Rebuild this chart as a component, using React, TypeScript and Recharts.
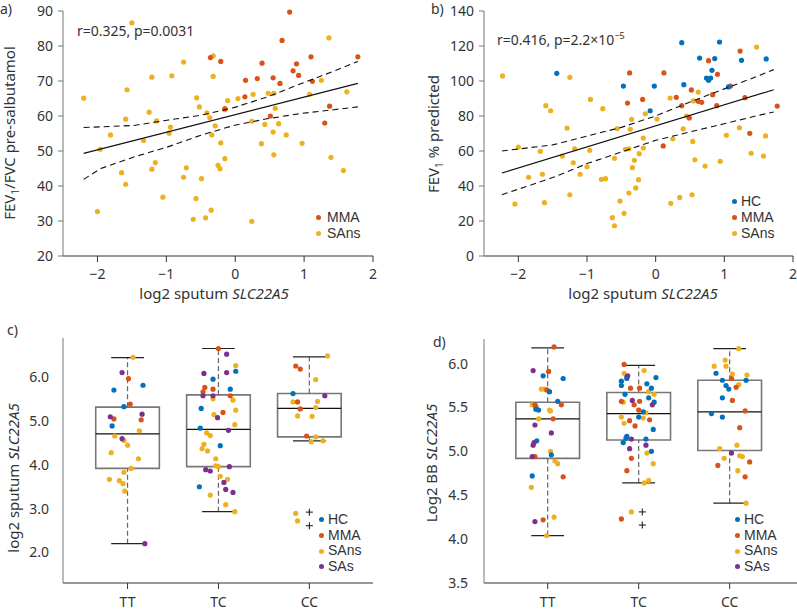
import {
  ComposedChart,
  Scatter,
  XAxis,
  YAxis,
  ReferenceArea,
  ReferenceLine,
  Legend,
} from 'recharts';

type Pt = [number, number];

const COLORS: Record<string, string> = {
  HC: '#0072BD',
  MMA: '#D95319',
  SAns: '#EDB120',
  SAs: '#7E2F8E',
};

// ---- panel a: FEV1/FVC vs sputum SLC22A5
const A_MMA: Pt[] = [
  [0.79, 89.7], [0.68, 81.6], [-0.36, 76.7], [-0.21, 75.6], [0.39, 75.1], [0.89, 74.9],
  [1.1, 76.9], [1.78, 76.9], [0.84, 72.9], [0.92, 71.6], [0.15, 70.2], [0.32, 70.7],
  [0.55, 70.9], [0.65, 69.3], [1.12, 69.9], [0.14, 65.5], [-0.15, 62.1], [0.51, 60.0],
  [1.37, 62.8], [1.3, 58.0],
];
const A_SANS: Pt[] = [
  [-1.5, 86.6], [1.36, 82.3], [-0.75, 75.4], [-0.32, 77.2], [-0.32, 71.3], [-0.92, 71.5],
  [-1.21, 71.1], [-2.2, 65.1], [-1.57, 67.5], [-0.56, 65.2], [-0.52, 62.6], [-0.11, 64.4],
  [0.04, 65.0], [0.26, 66.2], [0.48, 66.5], [0.56, 66.5], [1.08, 66.2], [1.25, 70.2],
  [1.62, 66.9], [-1.25, 61.1], [-1.59, 59.1], [-1.14, 58.6], [-0.41, 60.9], [-0.37, 59.5],
  [-0.15, 61.8], [0.58, 62.2], [0.24, 58.5], [0.63, 57.8], [0.43, 57.6], [-0.29, 57.2],
  [-1.81, 54.6], [-0.94, 56.8], [-0.96, 55.1], [-0.34, 54.6], [-1.33, 53.0], [-1.96, 50.5],
  [0.38, 52.1], [-0.21, 52.3], [0.55, 55.4], [0.74, 54.6], [0.97, 52.2], [0.56, 48.9],
  [-0.15, 47.8], [-1.16, 46.7], [1.39, 48.2], [-1.21, 44.8], [-1.65, 43.8], [-0.71, 45.2],
  [-0.25, 45.9], [-0.22, 44.9], [-0.75, 42.5], [-0.49, 42.1], [-1.59, 40.5], [1.57, 44.4],
  [-1.05, 36.8], [-0.57, 36.4], [-0.35, 33.1], [-2.0, 32.7], [-0.61, 30.5], [-0.43, 30.9],
  [0.24, 29.9],
];
const A_FIT: Pt[] = [[-2.2, 49.3], [1.78, 69.3]];
const A_CI_UP: Pt[] = [
  [-2.2, 56.7], [-1.47, 57.3], [-0.99, 58.8], [-0.5, 60.2], [-0.02, 62.4], [0.46, 65.4],
  [0.95, 69.2], [1.43, 72.8], [1.78, 75.6],
];
const A_CI_LO: Pt[] = [
  [-2.2, 41.9], [-1.95, 45.0], [-1.47, 48.3], [-0.99, 51.1], [-0.5, 54.5], [-0.02, 57.3],
  [0.46, 59.2], [0.95, 60.7], [1.43, 61.8], [1.78, 62.6],
];

// ---- panel b: FEV1 % predicted vs sputum SLC22A5
const B_HC: Pt[] = [
  [-1.44, 104.4], [-0.47, 97.1], [-0.02, 97.1], [-0.08, 83.0], [0.38, 121.9], [0.64, 113.1],
  [0.41, 97.9], [0.86, 112.8], [0.93, 122.3], [0.82, 106.1], [0.74, 101.7], [0.77, 100.4],
  [0.8, 101.7], [1.06, 96.6], [1.25, 111.8], [1.61, 112.6],
];
const B_MMA: Pt[] = [
  [-0.38, 104.6], [0.12, 104.6], [0.77, 111.6], [1.23, 117.1], [0.9, 103.8], [0.52, 94.9],
  [0.3, 90.7], [-0.19, 89.5], [-0.41, 87.4], [0.38, 85.9], [0.62, 88.4], [0.67, 87.8],
  [0.83, 92.2], [0.89, 85.9], [1.09, 97.1], [1.3, 90.5], [1.77, 85.7], [0.49, 78.9],
  [0.11, 62.9], [1.37, 70.1],
];
const B_SANS: Pt[] = [
  [-2.23, 102.9], [-1.25, 102.1], [1.47, 119.4], [0.62, 93.7], [0.21, 90.3], [0.55, 88.6],
  [-0.95, 89.5], [-0.77, 84.2], [-1.6, 85.9], [-1.53, 83.0], [-0.15, 81.3], [0.02, 78.3],
  [0.45, 80.0], [-0.35, 78.1], [-0.56, 72.8], [-0.37, 72.4], [-1.29, 73.1], [0.4, 72.6],
  [1.22, 73.3], [-0.18, 67.4], [0.25, 67.0], [1.03, 69.0], [1.6, 68.6], [0.54, 65.5],
  [-2.0, 62.3], [-1.18, 61.3], [-0.96, 60.4], [-0.39, 61.3], [-0.44, 61.0], [-0.18, 61.7],
  [-1.68, 59.8], [-1.36, 57.1], [-0.24, 58.5], [1.39, 58.7], [1.57, 57.1], [-0.6, 55.8],
  [-0.31, 54.7], [0.57, 55.0], [0.94, 54.1], [-1.2, 53.3], [-1.0, 51.0], [0.72, 51.4],
  [-0.34, 50.5], [-1.1, 46.7], [-1.65, 46.7], [-1.85, 45.0], [-0.79, 43.8], [-0.73, 44.2],
  [-0.25, 43.6], [-0.29, 38.9], [-0.39, 36.0], [-1.25, 35.0], [0.53, 35.0], [0.35, 33.5],
  [-0.52, 31.4], [-2.05, 29.7], [-1.62, 30.5], [0.22, 30.1], [-0.46, 24.4], [-0.63, 21.9],
  [-0.6, 17.3],
];
const B_FIT: Pt[] = [[-2.24, 47.4], [1.72, 95.0]];
const B_CI_UP: Pt[] = [
  [-2.24, 60.0], [-1.5, 63.5], [-1.0, 68.5], [-0.5, 73.5], [0.0, 80.0], [0.5, 88.0],
  [1.0, 95.5], [1.5, 103.0], [1.72, 106.5],
];
const B_CI_LO: Pt[] = [
  [-2.24, 35.0], [-1.5, 44.8], [-1.0, 52.8], [-0.5, 59.4], [0.0, 66.1], [0.5, 70.9],
  [1.0, 75.6], [1.5, 80.4], [1.72, 82.3],
];

// ---- panel c: sputum SLC22A5 by genotype (x = genotype position + jitter)
const GENOTYPES = ['TT', 'TC', 'CC'];
const C_HC: Pt[] = [
  [0.85, 5.71], [1.17, 5.82], [0.96, 5.33], [0.83, 4.89],
  [2.19, 6.14], [1.94, 5.96], [2.13, 5.73], [1.81, 5.29], [1.8, 4.84], [2.02, 4.44], [1.79, 3.5],
  [2.82, 5.63],
];
const C_MMA: Pt[] = [
  [1.01, 5.97], [1.03, 5.39], [0.85, 5.05], [1.15, 5.03],
  [2.0, 6.66], [1.83, 5.67], [1.85, 5.77], [1.94, 5.73], [2.13, 5.58], [2.05, 5.2],
  [2.85, 6.26], [2.9, 6.19], [2.87, 5.44], [2.9, 5.28], [2.97, 4.66],
];
const C_SANS: Pt[] = [
  [1.06, 6.46], [0.86, 4.66], [0.96, 4.56], [1.0, 4.45], [0.82, 4.28], [1.13, 4.78],
  [1.12, 4.14], [1.04, 3.92], [0.96, 3.83], [0.8, 3.67], [0.91, 3.64], [0.95, 3.57], [0.97, 3.4],
  [2.19, 6.27], [1.94, 5.51], [2.16, 5.48], [2.19, 5.25], [1.95, 5.15], [2.18, 4.92],
  [1.87, 4.73], [1.91, 4.67], [1.84, 4.47], [1.82, 4.37], [1.88, 4.32], [1.97, 4.14],
  [1.97, 3.98], [2.0, 3.96], [2.02, 3.74], [2.1, 3.67], [1.91, 3.31], [2.08, 3.09], [2.18, 2.93],
  [3.2, 6.49], [3.07, 5.95], [2.82, 5.44], [3.09, 5.45], [3.07, 5.31], [2.87, 5.12],
  [3.03, 5.11], [3.07, 4.64], [3.02, 4.53], [3.15, 4.55], [2.85, 2.89], [2.87, 2.72],
];
const C_SAS: Pt[] = [
  [0.94, 6.11], [0.81, 5.1], [1.16, 5.16], [0.94, 4.6], [1.19, 2.2],
  [2.09, 6.53], [1.84, 6.09], [2.09, 6.11], [1.83, 5.58], [1.94, 5.58], [1.99, 5.08],
  [2.11, 4.79], [1.86, 3.89], [1.91, 3.86], [2.12, 3.96], [2.06, 3.6], [2.08, 3.44], [2.16, 3.37],
  [3.17, 5.58],
];
// [position, lower whisker, q1, median, q3, upper whisker]
const C_BOXES: number[][] = [
  [1, 2.2, 3.92, 4.71, 5.32, 6.45],
  [2, 2.93, 3.96, 4.81, 5.6, 6.66],
  [3, 4.55, 4.64, 5.29, 5.63, 6.47],
];
const C_OUTLIERS: Pt[] = [[3, 2.92], [3, 2.61]];

// ---- panel d: BB SLC22A5 by genotype
const D_HC: Pt[] = [
  [0.95, 5.86], [1.17, 5.83], [1.02, 5.68], [1.11, 5.57], [0.87, 5.48], [0.9, 5.47],
  [0.88, 5.12], [1.04, 4.96], [0.83, 4.72],
  [1.81, 5.8], [1.87, 5.83], [1.87, 5.85], [1.81, 5.75], [1.85, 5.65], [2.09, 5.77],
  [2.14, 5.72], [2.19, 5.84], [2.11, 5.61], [2.17, 5.56], [2.05, 5.45], [2.0, 5.39],
  [2.16, 5.25], [1.87, 5.17], [1.86, 5.15], [1.83, 5.1], [2.08, 5.14], [2.14, 5.0],
  [2.85, 5.89], [2.92, 5.81], [2.96, 5.75], [2.99, 5.71], [3.18, 5.81], [2.92, 5.61],
  [2.8, 5.43], [2.92, 5.39],
];
const D_MMA: Pt[] = [
  [1.07, 6.19], [1.01, 5.91], [0.86, 5.53], [0.87, 5.51], [1.15, 5.53], [0.99, 5.7],
  [1.06, 5.37], [1.17, 4.71], [0.95, 4.22], [0.86, 4.94],
  [1.84, 5.99], [1.91, 5.72], [2.01, 5.72], [1.81, 5.57], [2.01, 5.57], [1.95, 5.53],
  [2.0, 5.47], [1.96, 5.29], [2.12, 5.36], [1.9, 5.35], [1.92, 4.92], [1.87, 4.78], [1.81, 4.23],
  [3.02, 5.83], [3.07, 5.73], [3.03, 5.58], [3.17, 5.46], [3.11, 5.27], [2.87, 4.84],
  [3.22, 4.88], [3.17, 4.71],
];
const D_SANS: Pt[] = [
  [0.93, 5.71], [0.96, 5.71], [0.83, 5.53], [1.02, 5.47], [1.03, 5.46], [0.9, 5.37],
  [1.03, 5.0], [1.08, 4.89], [1.11, 4.86], [0.82, 4.59], [1.07, 4.25], [0.99, 4.04],
  [2.06, 5.92], [1.84, 5.89], [2.11, 5.68], [2.17, 5.65], [1.83, 5.56], [1.81, 5.39],
  [1.84, 5.32], [2.08, 5.44], [2.05, 5.38], [2.09, 4.98], [2.16, 4.86], [2.11, 4.67],
  [2.06, 4.64], [1.92, 4.31],
  [3.1, 6.17], [2.83, 5.97], [2.95, 6.04], [2.96, 5.97], [3.03, 5.88], [3.19, 5.87],
  [3.1, 5.76], [2.89, 5.03], [3.08, 5.07], [2.94, 4.92], [3.11, 4.95], [3.14, 4.94],
  [3.09, 4.78], [3.18, 4.41],
];
const D_SAS: Pt[] = [
  [0.84, 5.92], [0.86, 5.3], [1.04, 5.21], [0.85, 5.1], [0.84, 5.07], [0.83, 4.94], [0.86, 4.2],
  [1.88, 5.86], [1.93, 5.58], [1.92, 5.14], [1.9, 5.03], [2.08, 5.07], [2.15, 5.53],
  [3.02, 4.98],
];
const D_BOXES: number[][] = [
  [1, 4.04, 4.92, 5.37, 5.56, 6.18],
  [2, 4.64, 5.13, 5.43, 5.67, 5.98],
  [3, 4.41, 5.01, 5.45, 5.81, 6.17],
];
const D_OUTLIERS: Pt[] = [[2.04, 4.31], [2.04, 4.16]];

const A_X_TICKS = [-2, -1, 0, 1, 2];
const A_Y_TICKS = [20, 30, 40, 50, 60, 70, 80, 90];
const B_Y_TICKS = [0, 20, 40, 60, 80, 100, 120, 140];
const C_Y_TICKS = [2, 3, 4, 5, 6];
const D_Y_TICKS = [3.5, 4, 4.5, 5, 5.5, 6];

const FONT = '"Noto Sans", sans-serif';
const LEGEND_FONT = '"Liberation Sans", Arial, sans-serif';
const TEXT = '#333';
const tickStyle = { fill: TEXT, fontSize: 14, fontFamily: FONT };

const xy = (pts: Pt[]) => pts.map(([x, y]) => ({ x, y }));
const signed = (v: number) => (v < 0 ? `\u2212${Math.abs(v)}` : `${v}`);

const dot = (color: string) => (p: any) => (
  <circle cx={p.cx} cy={p.cy} r={2.6} fill={color} />
);
const none = () => <g />;
const plus = (p: any) => (
  <g stroke="#222" strokeWidth={1.1}>
    <line x1={p.cx - 3.5} x2={p.cx + 3.5} y1={p.cy} y2={p.cy} />
    <line x1={p.cx} x2={p.cx} y1={p.cy - 3.5} y2={p.cy + 3.5} />
  </g>
);

const yTitle = (x: number, y: number, body: any) => () => (
  <text
    transform={`translate(${x},${y}) rotate(-90)`}
    textAnchor="middle"
    fontSize={15}
    fill={TEXT}
    fontFamily={FONT}
  >
    {body}
  </text>
);
const xTitle = (x: number, y: number) => () => (
  <text x={x} y={y} textAnchor="middle" fontSize={15} fill={TEXT} fontFamily={FONT}>
    log2 sputum <tspan fontStyle="italic">SLC22A5</tspan>
  </text>
);

function LegendBox({ names, gap, rowH }: { names: string[]; gap: number; rowH: number }) {
  return (
    <div style={{ fontFamily: LEGEND_FONT, fontSize: 14, color: TEXT }}>
      {names.map((n) => (
        <div key={n} style={{ display: 'flex', alignItems: 'center', height: rowH, lineHeight: `${rowH}px` }}>
          <span
            style={{
              width: 5,
              height: 5,
              borderRadius: '50%',
              background: COLORS[n],
              marginRight: gap,
              display: 'inline-block',
            }}
          />
          {n}
        </div>
      ))}
    </div>
  );
}

function boxes(list: number[][]) {
  const bw = 0.35;
  const cw = 0.18;
  return list.map(([pos, lo, q1, med, q3, hi]) => [
    <ReferenceLine key={`wu${pos}`} segment={[{ x: pos, y: q3 }, { x: pos, y: hi }]} stroke="#666" strokeDasharray="5 3" strokeWidth={1.2} />,
    <ReferenceLine key={`wl${pos}`} segment={[{ x: pos, y: lo }, { x: pos, y: q1 }]} stroke="#666" strokeDasharray="5 3" strokeWidth={1.2} />,
    <ReferenceLine key={`cu${pos}`} segment={[{ x: pos - cw, y: hi }, { x: pos + cw, y: hi }]} stroke="#222" strokeWidth={1.2} />,
    <ReferenceLine key={`cl${pos}`} segment={[{ x: pos - cw, y: lo }, { x: pos + cw, y: lo }]} stroke="#222" strokeWidth={1.2} />,
    <ReferenceArea key={`b${pos}`} x1={pos - bw} x2={pos + bw} y1={q1} y2={q3} fill="none" fillOpacity={0} stroke="#777" strokeWidth={1.6} />,
    <ReferenceLine key={`m${pos}`} segment={[{ x: pos - bw, y: med }, { x: pos + bw, y: med }]} stroke="#111" strokeWidth={1.2} />,
  ]);
}

const abs = (left: number, top: number): React.CSSProperties => ({ position: 'absolute', left, top });

export default function App() {
  return (
    <div
      style={{
        position: 'absolute',
        left: 0,
        top: 0,
        width: 797,
        height: 615,
        background: '#fff',
        fontFamily: FONT,
        color: TEXT,
        overflow: 'hidden',
      }}
    >
      {/* a) */}
      <div style={abs(0, 0)}>
        <ComposedChart width={398} height={310} margin={{ top: 11, right: 25, bottom: 0, left: 0 }}>
          <XAxis
            type="number"
            dataKey="x"
            domain={[-2.5, 2]}
            ticks={A_X_TICKS}
            tickFormatter={signed}
            tick={tickStyle}
            height={54}
            tickSize={6}
            tickMargin={7}
            stroke="#333"
            label={xTitle(214, 299)}
          />
          <YAxis
            type="number"
            dataKey="y"
            domain={[20, 90]}
            ticks={A_Y_TICKS}
            tick={tickStyle}
            width={63}
            tickSize={5}
            tickMargin={5}
            stroke="#777"
            label={yTitle(15, 133, (
              <>
                FEV<tspan dy={4} fontSize={10}>1</tspan>
                <tspan dy={-4}>/FVC pre-salbutamol</tspan>
              </>
            ))}
          />
          <Scatter data={xy(A_SANS)} shape={dot(COLORS.SAns)} isAnimationActive={false} />
          <Scatter data={xy(A_MMA)} shape={dot(COLORS.MMA)} isAnimationActive={false} />
          <Scatter data={xy(A_FIT)} shape={none} line={{ stroke: '#111', strokeWidth: 1.2 }} isAnimationActive={false} />
          <Scatter data={xy(A_CI_UP)} shape={none} line={{ stroke: '#111', strokeWidth: 1.1, strokeDasharray: '6 4' }} isAnimationActive={false} />
          <Scatter data={xy(A_CI_LO)} shape={none} line={{ stroke: '#111', strokeWidth: 1.1, strokeDasharray: '6 4' }} isAnimationActive={false} />
          <Legend
            layout="horizontal"
            verticalAlign="middle"
            wrapperStyle={{ left: 316, top: 209, width: 'auto' }}
            content={() => <LegendBox names={['MMA', 'SAns']} gap={6} rowH={16} />}
          />
        </ComposedChart>
      </div>

      {/* b) */}
      <div style={abs(398, 0)}>
        <ComposedChart width={399} height={310} margin={{ top: 11, right: 4, bottom: 0, left: 0 }}>
          <XAxis
            type="number"
            dataKey="x"
            domain={[-2.5, 2]}
            ticks={A_X_TICKS}
            tickFormatter={signed}
            tick={tickStyle}
            height={54}
            tickSize={6}
            tickMargin={7}
            stroke="#333"
            label={xTitle(245, 299)}
          />
          <YAxis
            type="number"
            dataKey="y"
            domain={[0, 140]}
            ticks={B_Y_TICKS}
            tick={tickStyle}
            width={86}
            tickSize={5}
            tickMargin={5}
            stroke="#777"
            label={yTitle(41, 134, (
              <>
                FEV<tspan dy={4} fontSize={10}>1</tspan>
                <tspan dy={-4}> % predicted</tspan>
              </>
            ))}
          />
          <Scatter data={xy(B_SANS)} shape={dot(COLORS.SAns)} isAnimationActive={false} />
          <Scatter data={xy(B_MMA)} shape={dot(COLORS.MMA)} isAnimationActive={false} />
          <Scatter data={xy(B_HC)} shape={dot(COLORS.HC)} isAnimationActive={false} />
          <Scatter data={xy(B_FIT)} shape={none} line={{ stroke: '#111', strokeWidth: 1.2 }} isAnimationActive={false} />
          <Scatter data={xy(B_CI_UP)} shape={none} line={{ stroke: '#111', strokeWidth: 1.1, strokeDasharray: '6 4' }} isAnimationActive={false} />
          <Scatter data={xy(B_CI_LO)} shape={none} line={{ stroke: '#111', strokeWidth: 1.1, strokeDasharray: '6 4' }} isAnimationActive={false} />
          <Legend
            layout="horizontal"
            verticalAlign="middle"
            wrapperStyle={{ left: 334, top: 193, width: 'auto' }}
            content={() => <LegendBox names={['HC', 'MMA', 'SAns']} gap={4} rowH={16} />}
          />
        </ComposedChart>
      </div>

      {/* c) */}
      <div style={abs(0, 300)}>
        <ComposedChart width={398} height={315} margin={{ top: 38, right: 25, bottom: 0, left: 0 }}>
          <XAxis
            type="number"
            dataKey="x"
            domain={[0.29, 3.7]}
            ticks={[1, 2, 3]}
            tickFormatter={(v: number) => GENOTYPES[v - 1]}
            tick={tickStyle}
            height={32}
            tickSize={6}
            tickMargin={8}
            stroke="#333"
          />
          <YAxis
            type="number"
            dataKey="y"
            domain={[1.3, 6.9]}
            ticks={C_Y_TICKS}
            tickFormatter={(v: number) => v.toFixed(1)}
            tick={tickStyle}
            width={63}
            tickLine={false}
            tickMargin={8}
            stroke="#777"
            label={yTitle(19, 178, (
              <>
                log2 sputum <tspan fontStyle="italic">SLC22A5</tspan>
              </>
            ))}
          />
          {boxes(C_BOXES)}
          <Scatter data={xy(C_SANS)} shape={dot(COLORS.SAns)} isAnimationActive={false} />
          <Scatter data={xy(C_MMA)} shape={dot(COLORS.MMA)} isAnimationActive={false} />
          <Scatter data={xy(C_HC)} shape={dot(COLORS.HC)} isAnimationActive={false} />
          <Scatter data={xy(C_SAS)} shape={dot(COLORS.SAs)} isAnimationActive={false} />
          <Scatter data={xy(C_OUTLIERS)} shape={plus} isAnimationActive={false} />
          <Legend
            layout="horizontal"
            verticalAlign="middle"
            wrapperStyle={{ left: 319, top: 212, width: 'auto' }}
            content={() => <LegendBox names={['HC', 'MMA', 'SAns', 'SAs']} gap={4} rowH={15.7} />}
          />
        </ComposedChart>
      </div>

      {/* d) */}
      <div style={abs(398, 300)}>
        <ComposedChart width={399} height={315} margin={{ top: 39, right: 0, bottom: 0, left: 0 }}>
          <XAxis
            type="number"
            dataKey="x"
            domain={[0.3, 3.74]}
            ticks={[1, 2, 3]}
            tickFormatter={(v: number) => GENOTYPES[v - 1]}
            tick={tickStyle}
            height={32}
            tickSize={6}
            tickMargin={8}
            stroke="#333"
          />
          <YAxis
            type="number"
            dataKey="y"
            domain={[3.5, 6.28]}
            ticks={D_Y_TICKS}
            tickFormatter={(v: number) => v.toFixed(1)}
            tick={tickStyle}
            width={86}
            tickLine={false}
            tickMargin={10}
            stroke="#777"
            label={yTitle(39, 163, (
              <>
                Log2 BB <tspan fontStyle="italic">SLC22A5</tspan>
              </>
            ))}
          />
          {boxes(D_BOXES)}
          <Scatter data={xy(D_SANS)} shape={dot(COLORS.SAns)} isAnimationActive={false} />
          <Scatter data={xy(D_MMA)} shape={dot(COLORS.MMA)} isAnimationActive={false} />
          <Scatter data={xy(D_HC)} shape={dot(COLORS.HC)} isAnimationActive={false} />
          <Scatter data={xy(D_SAS)} shape={dot(COLORS.SAs)} isAnimationActive={false} />
          <Scatter data={xy(D_OUTLIERS)} shape={plus} isAnimationActive={false} />
          <Legend
            layout="horizontal"
            verticalAlign="middle"
            wrapperStyle={{ left: 337, top: 212, width: 'auto' }}
            content={() => <LegendBox names={['HC', 'MMA', 'SAns', 'SAs']} gap={4} rowH={15.7} />}
          />
        </ComposedChart>
      </div>

      {/* panel letters and stats */}
      <div style={{ ...abs(0, 1.5), fontSize: 14, lineHeight: '14px' }}>a)</div>
      <div style={{ ...abs(431, 1.5), fontSize: 14, lineHeight: '14px' }}>b)</div>
      <div style={{ ...abs(7, 322.5), fontSize: 14, lineHeight: '14px' }}>c)</div>
      <div style={{ ...abs(433, 334.5), fontSize: 14, lineHeight: '14px' }}>d)</div>
      <div style={{ ...abs(77, 23.5), fontSize: 14, lineHeight: '14px', whiteSpace: 'nowrap' }}>
        r=0.325, p=0.0031
      </div>
      <div style={{ ...abs(497, 28.5), fontSize: 14, lineHeight: '14px', whiteSpace: 'nowrap' }}>
        r=0.416, p=2.2×10<sup style={{ fontSize: 9, verticalAlign: 6 }}>−5</sup>
      </div>
    </div>
  );
}
